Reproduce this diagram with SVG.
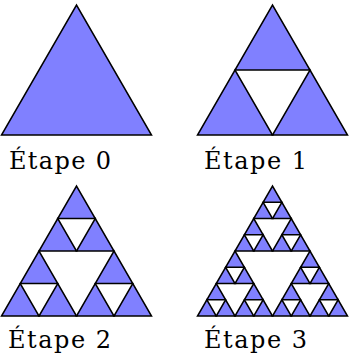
<svg xmlns="http://www.w3.org/2000/svg" width="350" height="360" viewBox="0 0 350 360">
<style>
.t{fill:#8080ff;stroke:#000;stroke-width:1.5;stroke-linejoin:miter}
.lbl{font-family:"DejaVu Serif","Liberation Serif",serif;font-size:24px;fill:#000}
</style>
<defs>
<polygon id="T150" class="t" points="0,0 150,0 75,-129.904"/>
<polygon id="T75" class="t" points="0,0 75,0 37.5,-64.952"/>
<polygon id="T37" class="t" points="0,0 37.5,0 18.75,-32.476"/>
<polygon id="T18" class="t" points="0,0 18.75,0 9.375,-16.238"/>
<g id="S37">
<use href="#T18" x="0" y="0"/>
<use href="#T18" x="18.75" y="0"/>
<use href="#T18" x="9.375" y="-16.238"/>
</g>
<g id="S75">
<use href="#S37" x="0" y="0"/>
<use href="#S37" x="37.5" y="0"/>
<use href="#S37" x="18.75" y="-32.476"/>
</g>
<g id="R75">
<use href="#T37" x="0" y="0"/>
<use href="#T37" x="37.5" y="0"/>
<use href="#T37" x="18.75" y="-32.476"/>
</g>
</defs>
<g id="etape0" transform="translate(1.5,135)">
<use href="#T150"/>
</g>
<g id="etape1" transform="translate(197.5,135)">
<use href="#T75" x="0" y="0"/>
<use href="#T75" x="75" y="0"/>
<use href="#T75" x="37.5" y="-64.952"/>
</g>
<g id="etape2" transform="translate(1.5,316)">
<use href="#R75" x="0" y="0"/>
<use href="#R75" x="75" y="0"/>
<use href="#R75" x="37.5" y="-64.952"/>
</g>
<g id="etape3" transform="translate(197.5,316)">
<use href="#S75" x="0" y="0"/>
<use href="#S75" x="75" y="0"/>
<use href="#S75" x="37.5" y="-64.952"/>
</g>
<g id="labels">
<text class="lbl" x="9" y="169" textLength="102" lengthAdjust="spacing">Étape 0</text>
<text class="lbl" x="204" y="169" textLength="103" lengthAdjust="spacing">Étape 1</text>
<text class="lbl" x="8" y="348" textLength="103" lengthAdjust="spacing">Étape 2</text>
<text class="lbl" x="204" y="348" textLength="103" lengthAdjust="spacing">Étape 3</text>
</g>
</svg>
